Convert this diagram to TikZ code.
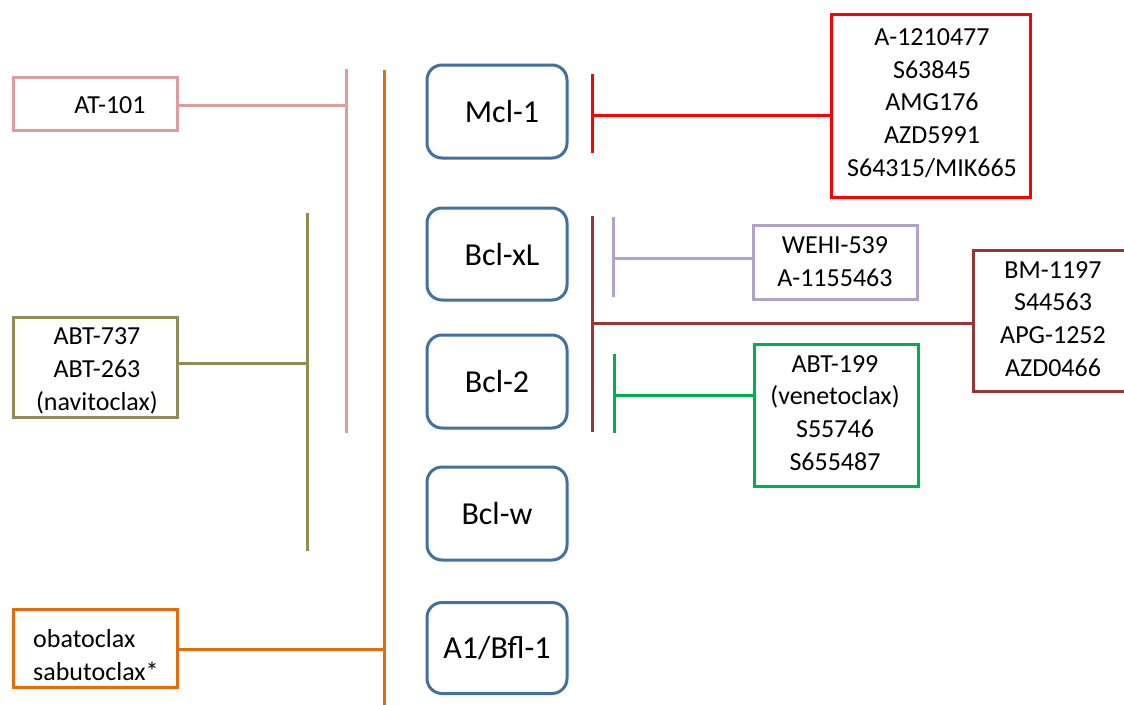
\documentclass[tikz,border=0pt]{standalone}
\usepackage{fontspec}
\setmainfont{Carlito}
\definecolor{protblue}{HTML}{41719C}
\definecolor{pinkc}{HTML}{DE9C9B}
\definecolor{orangec}{HTML}{E46C0A}
\definecolor{olivec}{HTML}{948A54}
\definecolor{redc}{HTML}{FF0000}
\definecolor{brownc}{HTML}{953735}
\definecolor{lavc}{HTML}{B3A2C7}
\definecolor{greenc}{HTML}{00B050}
\tikzset{
  prot/.style={draw=protblue, line width=3pt, rounded corners=15pt, minimum width=140pt, inner sep=0pt, font=\fontsize{32}{38}\selectfont},
  drugbox/.style={draw=#1, line width=3pt, inner sep=0pt, fill=white},
  drugtxt/.style={inner sep=0pt, align=center, font=\fontsize{26}{32.7}\selectfont},
  bar/.style={draw=#1, line width=3pt}
}
\begin{document}
\begin{tikzpicture}[x=1pt,y=-1pt]
\useasboundingbox (0,0) rectangle (1124,704);
\clip (0,0) rectangle (1124,704);
\fill[white] (0,0) rectangle (1124,704);

% protein boxes
\node[prot, minimum height=93pt] (mcl) at (497,111.5) {\hspace*{10pt}Mcl-1};
\node[prot, minimum height=92pt] (bclxl) at (497,254) {\hspace*{10pt}Bcl-xL};
\node[prot, minimum height=93pt] (bcl2) at (497,381.5) {Bcl-2};
\node[prot, minimum height=93pt] (bclw) at (497,513.5) {Bcl-w};
\node[prot, minimum height=91pt] (a1) at (497,648) {A1/Bfl-1};

% vertical bars
\coordinate (pinkT) at (346,69);  \coordinate (pinkB) at (346,433);
\coordinate (oraT) at (384,70);   \coordinate (oraB) at (384,710);
\coordinate (oliT) at (307,213);  \coordinate (oliB) at (307,551);
\coordinate (redT) at (592,74);   \coordinate (redB) at (592,153);
\coordinate (brT) at (592,216);   \coordinate (brB) at (592,432);
\coordinate (lavT) at (613,217);  \coordinate (lavB) at (613,297);
\coordinate (grT) at (614,354);   \coordinate (grB) at (614,433);
\draw[bar=pinkc] (pinkT) -- (pinkB);
\draw[bar=orangec] (oraT) -- (oraB);
\draw[bar=olivec] (oliT) -- (oliB);
\draw[bar=redc] (redT) -- (redB);
\draw[bar=brownc] (brT) -- (brB);
\draw[bar=lavc] (lavT) -- (lavB);
\draw[bar=greenc] (grT) -- (grB);

% drug boxes (left)
\node[drugbox=pinkc, minimum width=164pt, minimum height=53pt] (atbox) at (95.5,103.5) {};
\node[drugtxt] (attxt) at (110,105) {AT-101};
\node[drugbox=olivec, minimum width=164pt, minimum height=100pt] (abtbox) at (95.5,367) {};
\node[drugtxt] (abttxt) at (97,371) {ABT-737\\ABT-263\\(navitoclax)};
\node[drugbox=orangec, minimum width=164pt, minimum height=78pt] (obabox) at (95.5,648) {};
\node[drugtxt, align=left, anchor=west] (obatxt) at (33,655) {obatoclax\\sabutoclax*};

% drug boxes (right)
\node[drugbox=redc, minimum width=199pt, minimum height=183pt] (redbox) at (930.5,105.5) {};
\node[drugtxt] (redtxt) at (932,103) {A-1210477\\S63845\\AMG176\\AZD5991\\S64315/MIK665};
\node[drugbox=lavc, minimum width=164pt, minimum height=74pt] (lavbox) at (835,262) {};
\node[drugtxt] (lavtxt) at (835,262) {WEHI-539\\A-1155463};
\node[drugbox=brownc, minimum width=164pt, minimum height=141pt] (brbox) at (1055,320.5) {};
\node[drugtxt] (brtxt) at (1053,319) {BM-1197\\S44563\\APG-1252\\AZD0466};
\node[drugbox=greenc, minimum width=164pt, minimum height=142pt] (grbox) at (836,415) {};
\node[drugtxt] (grtxt) at (835,413) {ABT-199\\(venetoclax)\\S55746\\S655487};

% connector levels
\coordinate (yat) at (0,105);
\coordinate (yabt) at (0,363);
\coordinate (yoba) at (0,649);
\coordinate (yred) at (0,115);
\coordinate (ylav) at (0,258);
\coordinate (ybr) at (0,323);
\coordinate (ygr) at (0,395);

% connectors
\draw[bar=pinkc] (atbox.east |- yat) -- (pinkT |- yat);
\draw[bar=olivec] (abtbox.east |- yabt) -- (oliT |- yabt);
\draw[bar=orangec] (obabox.east |- yoba) -- (oraT |- yoba);
\draw[bar=redc] (redbox.west |- yred) -- (redT |- yred);
\draw[bar=lavc] (lavbox.west |- ylav) -- (lavT |- ylav);
\draw[bar=brownc] (brbox.west |- ybr) -- (brT |- ybr);
\draw[bar=greenc] (grbox.west |- ygr) -- (grT |- ygr);
\end{tikzpicture}
\end{document}
